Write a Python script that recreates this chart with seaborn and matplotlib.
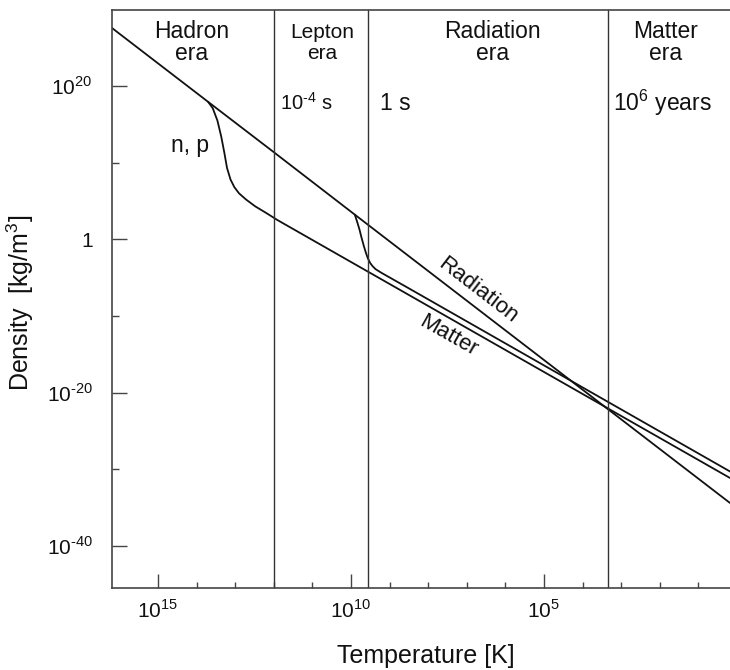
import numpy as np
import pandas as pd
import seaborn as sns
import matplotlib.pyplot as plt
from matplotlib.ticker import FixedLocator, NullFormatter

# log10 of temperature [K] and density [kg/m^3]
rad_logT = [16.19, 13.70, 12.02, 9.90, 0.18]
rad_logrho = [27.56, 17.93, 11.45, 3.22, -34.39]

np_logT = [13.70, 13.58, 13.46, 13.36, 13.28, 13.21, 13.12, 13.02, 12.90,
           12.72, 12.48, 12.20, 11.90, 0.18]
np_logrho = [17.93, 17.10, 15.50, 13.40, 11.30, 9.30, 7.80, 6.80, 6.00,
             5.20, 4.30, 3.45, 2.50, -31.13]

lep_logT = [9.90, 9.84, 9.78, 9.73, 9.67, 9.61, 9.56, 9.50, 9.44, 9.36,
            9.20, 8.47, 0.18]
lep_logrho = [3.22, 2.30, 1.30, 0.30, -0.80, -1.80, -2.50, -3.10, -3.50,
              -3.90, -4.40, -6.48, -30.28]

# era boundaries (log10 T)
era_bounds = [12.0, 9.56, 3.34]
era_names = ["Hadron\nera", "Lepton\nera", "Radiation\nera", "Matter\nera"]
era_times = ["10$^{\\mathregular{\u20104}}$ s", "1 s",
             "10$^{\\mathregular{6}}$ years"]

x_major = [15, 10, 5]
y_major = [20, 0, -20, -40]


def exp_label(k):
    if k == 0:
        return "1"
    s = str(k).replace("-", "\u2010")
    return "10$^{\\mathregular{%s}}$" % s


def main():
    sns.set_theme(style="ticks")
    plt.rcParams["font.family"] = ["Liberation Sans", "DejaVu Sans"]
    plt.rcParams["mathtext.fontset"] = "custom"
    plt.rcParams["mathtext.rm"] = "Liberation Sans"

    fig = plt.figure(figsize=(7.3, 6.7), dpi=100)
    ax = fig.add_axes([112 / 730, 1 - 588 / 670, 618 / 730, 578 / 670])
    ax.set_xscale("log")
    ax.set_yscale("log")

    ink = "#111111"
    curves = [(rad_logT, rad_logrho), (np_logT, np_logrho), (lep_logT, lep_logrho)]
    for lt, lr in curves:
        df = pd.DataFrame({"T": 10.0 ** np.array(lt), "rho": 10.0 ** np.array(lr)})
        sns.lineplot(data=df, x="T", y="rho", ax=ax, color=ink, lw=1.3,
                     sort=False, estimator=None)

    for b in era_bounds:
        ax.axvline(10.0 ** b, color="#333333", lw=1.0)

    ax.set_xlim(10 ** 16.19, 10 ** 0.18)
    ax.set_ylim(10 ** -45.48, 10 ** 29.91)

    # ticks
    ax.xaxis.set_major_locator(FixedLocator([10.0 ** k for k in x_major]))
    ax.set_xticklabels([exp_label(k) for k in x_major])
    ax.xaxis.set_minor_locator(FixedLocator([10.0 ** k for k in range(1, 16)]))
    ax.xaxis.set_minor_formatter(NullFormatter())
    ax.yaxis.set_major_locator(FixedLocator([10.0 ** k for k in y_major]))
    ax.set_yticklabels([exp_label(k) for k in y_major])
    ax.yaxis.set_minor_locator(FixedLocator([1e10, 1e-10, 1e-30]))
    ax.yaxis.set_minor_formatter(NullFormatter())

    ax.tick_params(which="major", direction="in", width=1.0,
                   color="#444444", labelsize=15, labelcolor=ink)
    ax.tick_params(axis="x", which="major", length=10, pad=8)
    ax.tick_params(axis="y", which="major", length=11, pad=14)
    ax.tick_params(which="minor", direction="in", width=1.0, color="#444444")
    ax.tick_params(axis="x", which="minor", length=4)
    ax.tick_params(axis="y", which="minor", length=5)

    for side in ["top", "left", "bottom"]:
        ax.spines[side].set_color("#444444")
        ax.spines[side].set_linewidth(1.2)
    ax.spines["right"].set_visible(False)

    ax.set_xlabel("Temperature [K]", fontsize=18, color=ink)
    ax.xaxis.set_label_coords(0.508, -0.097)
    ax.set_ylabel("Density  [kg/m$^{\\mathregular{3}}$]", fontsize=18,
                  color=ink)
    ax.yaxis.set_label_coords(-0.123, 0.493)

    # era titles
    era_x = [0.129, 0.340, 0.615, 0.895]
    era_fs = [16.5, 15, 16.5, 16.5]
    era_ls = [0.95, 1.1, 0.95, 0.95]
    for name, xp, fs, ls in zip(era_names, era_x, era_fs, era_ls):
        ax.text(xp, 0.943, name, transform=ax.transAxes, ha="center",
                va="center", multialignment="center", fontsize=fs,
                color=ink, linespacing=ls)

    time_x = [0.272, 0.434, 0.811]
    time_fs = [14.5, 16.5, 16.5]
    for t, xp, fs in zip(era_times, time_x, time_fs):
        ax.text(xp, 0.839, t, transform=ax.transAxes, ha="left",
                va="center", fontsize=fs, color=ink)

    ax.text(0.126, 0.766, "n, p", transform=ax.transAxes, ha="center",
            va="center", fontsize=16.5, color=ink)
    ax.text(0.592, 0.514, "Radiation", transform=ax.transAxes, ha="center",
            va="center", fontsize=16, color=ink, rotation=-37.6,
            rotation_mode="anchor")
    ax.text(0.544, 0.436, "Matter", transform=ax.transAxes, ha="center",
            va="center", fontsize=16, color=ink, rotation=-29.6,
            rotation_mode="anchor")

    fig.savefig("out.png", dpi=100)


if __name__ == "__main__":
    main()
